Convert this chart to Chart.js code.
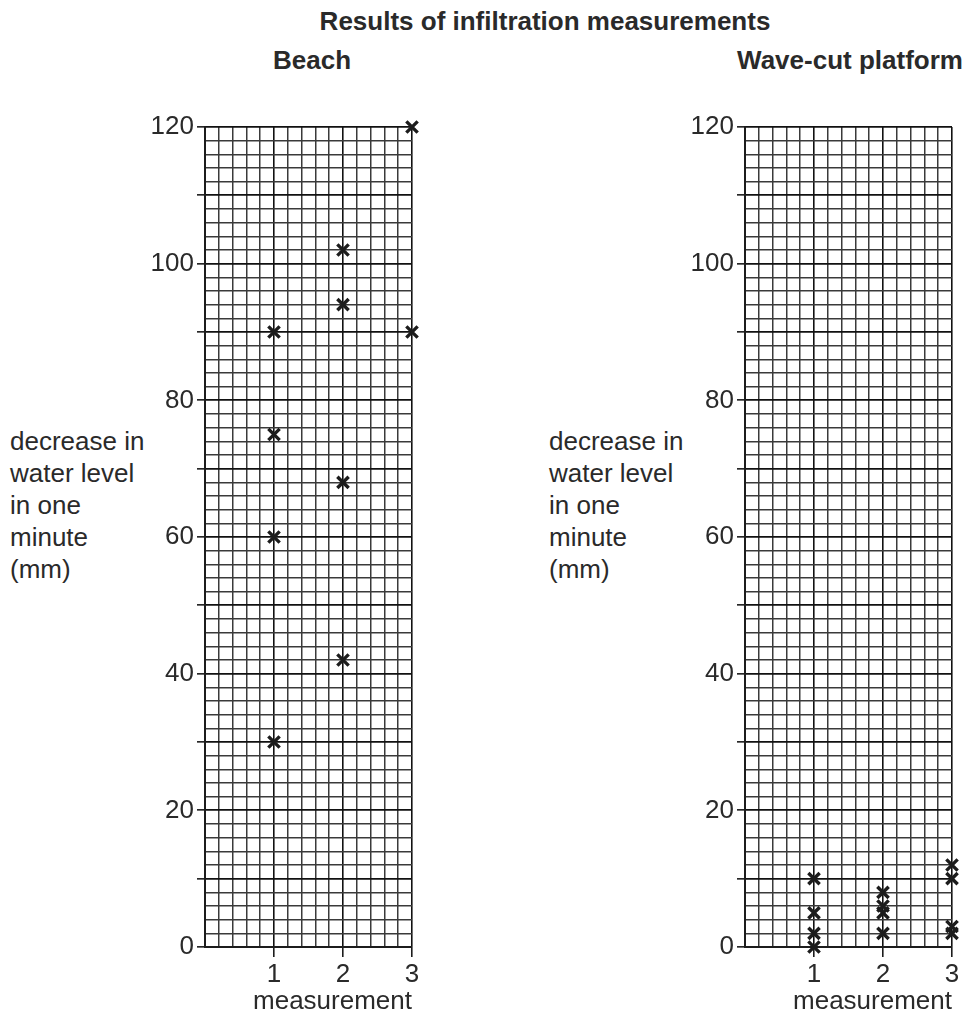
<!DOCTYPE html>
<html>
<head>
<meta charset="utf-8">
<script src="https://cdn.jsdelivr.net/npm/chart.js@4.4.0/dist/chart.umd.min.js"></script>
<style>
  html, body { margin: 0; padding: 0; background: #fff; overflow: hidden; }
  body { width: 967px; height: 1018px; position: relative; font-family: 'Liberation Sans', Arial, sans-serif; color: #2a2a2a; }
  .txt { position: absolute; white-space: nowrap; }
  .bold { font-weight: bold; font-size: 26px; line-height: 28px; text-align: center; }
  .ylab { font-size: 26px; line-height: 32px; }
  canvas { position: absolute; }
</style>
</head>
<body>
<div class="txt bold" style="left:245px; top:7px; width:600px;">Results of infiltration measurements</div>
<div class="txt bold" style="left:212px; top:46px; width:200px;">Beach</div>
<div class="txt bold" style="left:700px; top:46px; width:300px;">Wave-cut platform</div>
<div class="txt ylab" style="left:10px; top:425px;">decrease in<br>water level<br>in one<br>minute<br>(mm)</div>
<div class="txt ylab" style="left:549px; top:425px;">decrease in<br>water level<br>in one<br>minute<br>(mm)</div>

<div style="position:absolute; left:0; top:100px; width:430px; height:918px;"><canvas id="beach"></canvas></div>
<div style="position:absolute; left:540px; top:100px; width:427px; height:918px;"><canvas id="wave"></canvas></div>

<script>
// measurement number on x, decrease in water level (mm) on y
const xTickLabels = [1, 2, 3];
const yTickLabels = [0, 20, 40, 60, 80, 100, 120];

const beach1 = [90, 75, 60, 30];
const beach2 = [102, 94, 68, 42];
const beach3 = [120, 90];

const wave1 = [10, 5, 2, 0];
const wave2 = [8, 6, 5, 2];
const wave3 = [12, 10, 3, 2];

const INK = '#1c1c1c';
const FONT = 'Liberation Sans, Arial, sans-serif';

function toPoints(lists) {
  const pts = [];
  lists.forEach((vals, i) => {
    for (const v of vals) pts.push({ x: xTickLabels[i], y: v });
  });
  return pts;
}

function round3(v) { return Math.round(v * 1000) / 1000; }

function makeChart(id, lists, padRight) {
  const ctx = document.getElementById(id).getContext('2d');
  return new Chart(ctx, {
    type: 'scatter',
    data: {
      datasets: [{
        data: toPoints(lists),
        pointStyle: 'crossRot',
        pointRadius: 8,
        pointHoverRadius: 8,
        borderWidth: 3.4,
        borderColor: INK,
        backgroundColor: INK,
        clip: false,
      }],
    },
    options: {
      responsive: true,
      maintainAspectRatio: false,
      animation: false,
      events: [],
      layout: { padding: { top: 27, right: padRight, left: 0, bottom: 0 } },
      plugins: { legend: { display: false }, tooltip: { enabled: false } },
      scales: {
        x: {
          type: 'linear',
          min: 0,
          max: 3,
          afterFit: s => { s.height = 71; },
          border: { color: INK, width: 2 },
          grid: {
            color: c => Number.isInteger(round3(c.tick.value)) ? '#111' : '#3a3a3a',
            lineWidth: c => Number.isInteger(round3(c.tick.value)) ? 1.6 : 1.5,
            tickLength: 10,
            tickWidth: 1.6,
            tickColor: c => xTickLabels.includes(round3(c.tick.value)) ? INK : 'rgba(0,0,0,0)',
          },
          ticks: {
            stepSize: 0.2,
            autoSkip: false,
            maxRotation: 0,
            padding: 2,
            color: '#2a2a2a',
            font: { family: FONT, size: 26 },
            callback: v => xTickLabels.includes(round3(v)) ? String(round3(v)) : '',
          },
          title: {
            display: true,
            text: 'measurement',
            align: 'end',
            color: '#2a2a2a',
            font: { family: FONT, size: 26 },
            padding: { top: 0, bottom: 1 },
          },
        },
        y: {
          type: 'linear',
          min: 0,
          max: 120,
          afterFit: s => { s.width = 205; },
          border: { color: INK, width: 2 },
          grid: {
            color: c => c.tick.value % 10 === 0 ? '#111' : '#3a3a3a',
            lineWidth: c => c.tick.value % 10 === 0 ? 1.7 : 1.5,
            tickLength: 8,
            tickWidth: 1.6,
            tickColor: c => c.tick.value % 10 === 0 ? INK : 'rgba(0,0,0,0)',
          },
          ticks: {
            stepSize: 2,
            autoSkip: false,
            padding: 3,
            color: '#2a2a2a',
            font: { family: FONT, size: 26 },
            callback: v => yTickLabels.includes(v) ? String(v) : '',
          },
        },
      },
    },
  });
}

makeChart('beach', [beach1, beach2, beach3], 18);
makeChart('wave', [wave1, wave2, wave3], 15);
</script>
</body>
</html>
